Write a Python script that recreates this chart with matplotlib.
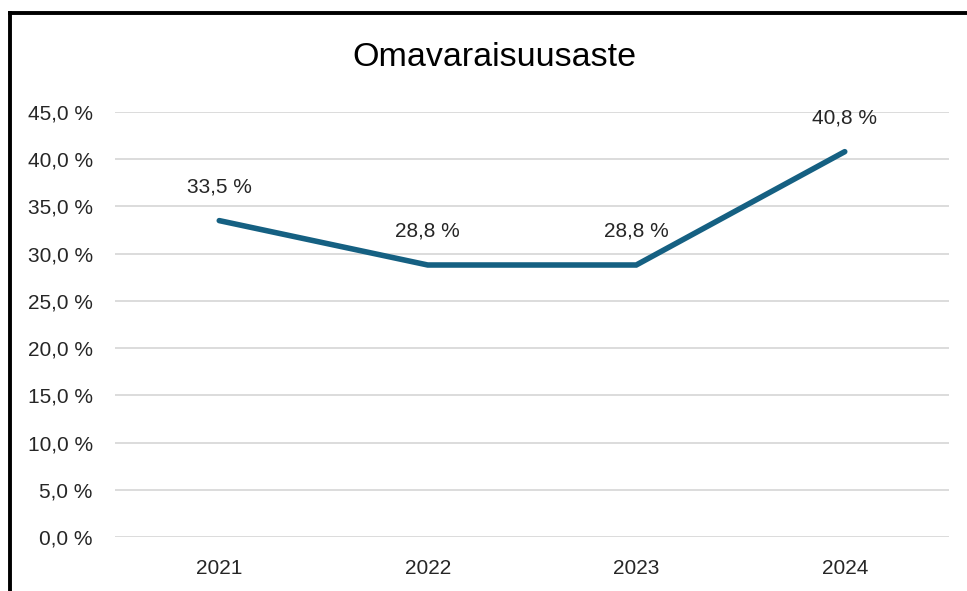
import matplotlib
matplotlib.use("Agg")
import matplotlib.pyplot as plt
from matplotlib.lines import Line2D

plt.rcParams.update({
    "font.family": ["Liberation Sans", "DejaVu Sans"],
})

years = ["2021", "2022", "2023", "2024"]
values = [33.5, 28.8, 28.8, 40.8]
yticks = [0, 5, 10, 15, 20, 25, 30, 35, 40, 45]
title = "Omavaraisuusaste"

LINE_COLOR = "#156082"
GRID_COLOR = "#D9D9D9"
TEXT_COLOR = "#262626"


def pct(v):
    return f"{v:.1f}".replace(".", ",") + " %"


W, H = 967, 591
fig = plt.figure(figsize=(W / 100, H / 100), dpi=100)
ax = fig.add_axes([115 / W, 1 - 537 / H, (949 - 115) / W, (537 - 112) / H])

x = list(range(len(years)))
ax.plot(x, values, color=LINE_COLOR, linewidth=4, solid_capstyle="round",
        solid_joinstyle="miter", zorder=3)

for xi, v in zip(x, values):
    ax.annotate(pct(v), (xi, v), xytext=(0, 24.5), textcoords="offset points",
                ha="center", va="center", fontsize=15, color=TEXT_COLOR)

ax.set_xlim(-0.5, len(years) - 0.5)
ax.set_ylim(0, 45)
ax.set_yticks(yticks)
ax.set_yticklabels([pct(t) for t in yticks])
ax.set_xticks(x)
ax.set_xticklabels(years)
ax.tick_params(axis="y", length=0, pad=16, labelsize=15, labelcolor=TEXT_COLOR)
ax.tick_params(axis="x", length=0, pad=16, labelsize=15, labelcolor=TEXT_COLOR)

ax.grid(axis="y", color=GRID_COLOR, linewidth=1.3)
ax.set_axisbelow(True)
for s in ax.spines.values():
    s.set_visible(False)

fig.text(494 / W, 1 - 57 / H, title, ha="center", va="center",
         fontsize=24.5, color="#000000")

# black frame: left and top edge visible in the screenshot
bx, by = 10 / W, 1 - 13 / H
fig.add_artist(Line2D([bx, bx], [-0.05, by], transform=fig.transFigure,
                      color="black", linewidth=2.8, solid_capstyle="projecting"))
fig.add_artist(Line2D([bx, 1.05], [by, by], transform=fig.transFigure,
                      color="black", linewidth=2.8, solid_capstyle="projecting"))

fig.savefig("out.png", dpi=100)
